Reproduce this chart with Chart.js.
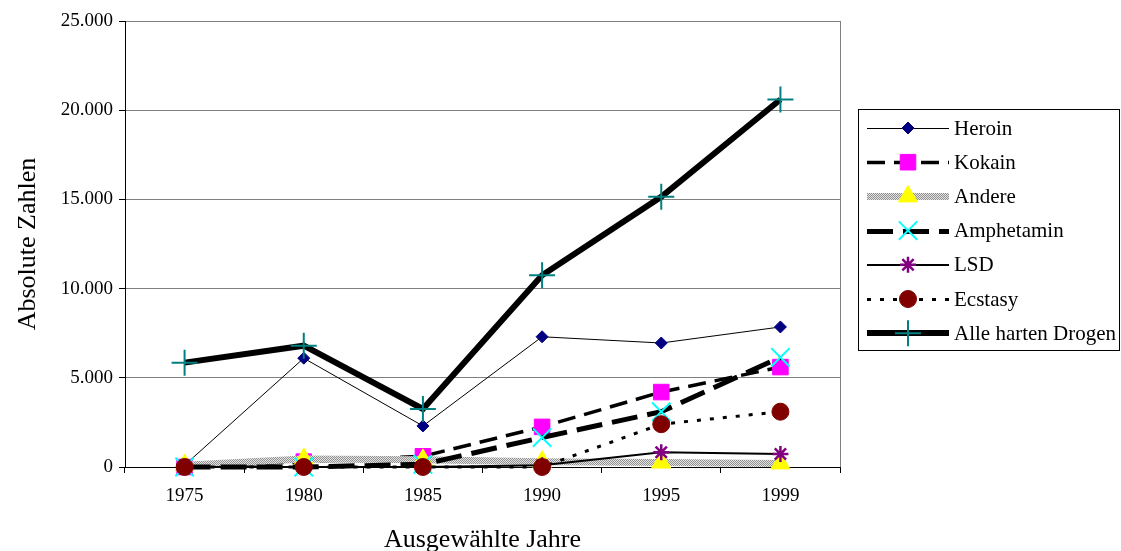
<!DOCTYPE html>
<html lang="de">
<head>
<meta charset="utf-8">
<title>Harte Drogen – Absolute Zahlen</title>
<script src="https://cdn.jsdelivr.net/npm/chart.js@4/dist/chart.umd.min.js"></script>
<style>
  html, body { margin: 0; padding: 0; background: #fff; }
  canvas { display: block; }
</style>
</head>
<body>
<canvas id="chart" width="1121" height="551"></canvas>
<script>
// Jahre und Werte je Droge
const years = ['1975', '1980', '1985', '1990', '1995', '1999'];
const heroin     = [100, 6100, 2300, 7300, 6950, 7850];
const kokain     = [0, 300, 600, 2250, 4200, 5600];
const andere     = [100, 450, 400, 300, 250, 200];
const amphetamin = [0, 0, 150, 1650, 3100, 6150];
const lsd        = [0, 0, 0, 100, 830, 730];
const ecstasy    = [0, 0, 0, 0, 2400, 3100];
const alle       = [5850, 6800, 3250, 10750, 15150, 20600];
const yTicks = [0, 5000, 10000, 15000, 20000, 25000];

const FONT = "'Liberation Serif', 'Times New Roman', serif";

// graues Punktraster für die Linie "Andere"
function hatchPattern() {
  const c = document.createElement('canvas');
  c.width = 2; c.height = 2;
  const g = c.getContext('2d');
  g.fillStyle = '#e4e4e4'; g.fillRect(0, 0, 2, 2);
  g.fillStyle = '#909090'; g.fillRect(0, 0, 1, 1); g.fillRect(1, 1, 1, 1);
  return g.createPattern(c, 'repeat');
}
const ctx = document.getElementById('chart').getContext('2d');
const hatch = hatchPattern();

const series = [
  { label: 'Heroin', data: heroin, line: '#000000', width: 1, dash: [],
    style: 'rectRot', radius: 6, fill: '#000080', stroke: '#000080', pw: 1 },
  { label: 'Kokain', data: kokain, line: '#000000', width: 3.5, dash: [18, 9],
    style: 'rect', radius: 11, fill: '#ff00ff', stroke: '#ff00ff', pw: 1 },
  { label: 'Andere', data: andere, line: hatch, width: 7, dash: [],
    style: 'triangle', radius: 11, fill: '#ffff00', stroke: '#ffff00', pw: 1 },
  { label: 'Amphetamin', data: amphetamin, line: '#000000', width: 5, dash: [26, 10],
    style: 'crossRot', radius: 13, fill: '#00ffff', stroke: '#00ffff', pw: 2 },
  { label: 'LSD', data: lsd, line: '#000000', width: 2, dash: [],
    style: 'star', radius: 8, fill: '#800080', stroke: '#800080', pw: 2.5 },
  { label: 'Ecstasy', data: ecstasy, line: '#000000', width: 3, dash: [4, 9],
    style: 'circle', radius: 8.5, fill: '#800000', stroke: '#800000', pw: 1 },
  { label: 'Alle harten Drogen', data: alle, line: '#000000', width: 6, dash: [],
    style: 'cross', radius: 13, fill: '#008080', stroke: '#008080', pw: 2 }
];

const datasets = series.map((s, i) => ({
  label: s.label,
  data: s.data,
  borderColor: s.line,
  borderWidth: s.width,
  borderDash: s.dash,
  tension: 0,
  fill: false,
  pointStyle: s.style,
  pointRadius: s.radius,
  pointHoverRadius: s.radius,
  pointBackgroundColor: s.fill,
  pointBorderColor: s.stroke,
  pointBorderWidth: s.pw,
  clip: false,
  order: series.length - i
}));

function deNumber(v) {
  return String(v).replace(/\B(?=(\d{3})+(?!\d))/g, '.');
}

// Marker der Legende mit derselben Form wie im Diagramm
function marker(c, s, x, y) {
  if (Chart.helpers && Chart.helpers.drawPoint) {
    c.save();
    c.fillStyle = s.fill; c.strokeStyle = s.stroke; c.lineWidth = s.pw;
    Chart.helpers.drawPoint(c, { pointStyle: s.style, radius: s.radius, borderWidth: s.pw, rotation: 0 }, x, y);
    c.restore();
  }
}

const frameAndLegend = {
  id: 'frameAndLegend',
  afterDraw(chart) {
    const c = chart.ctx;
    const a = chart.chartArea;
    c.save();
    // rechter Rahmen der Zeichenfläche
    c.strokeStyle = '#808080';
    c.lineWidth = 1;
    c.beginPath();
    c.moveTo(a.right + 0.5, a.top);
    c.lineTo(a.right + 0.5, a.bottom);
    c.stroke();

    // Legende
    const bx = 858.5, by = 109.5, bw = 261, bh = 241;
    c.fillStyle = '#ffffff';
    c.fillRect(bx, by, bw, bh);
    c.strokeStyle = '#000000';
    c.lineWidth = 1;
    c.strokeRect(bx, by, bw, bh);

    const x0 = 867, x1 = 949, mx = 908, tx = 954;
    series.forEach((s, i) => {
      const y = 128 + i * 34.2;
      c.save();
      c.strokeStyle = s.line;
      c.lineWidth = s.width;
      c.setLineDash(s.dash);
      c.beginPath();
      c.moveTo(x0, Math.round(y) + (s.width % 2 ? 0.5 : 0));
      c.lineTo(x1, Math.round(y) + (s.width % 2 ? 0.5 : 0));
      c.stroke();
      c.restore();
      marker(c, s, mx, y);
      c.fillStyle = '#000000';
      c.font = '21px ' + FONT;
      c.textAlign = 'left';
      c.textBaseline = 'middle';
      c.fillText(s.label, tx, y + 1);
    });
    c.restore();
  }
};

new Chart(ctx, {
  type: 'line',
  data: { labels: years, datasets },
  plugins: [frameAndLegend],
  options: {
    responsive: false,
    animation: false,
    events: [],
    layout: { padding: { top: 21, right: 281, bottom: 0, left: 0 } },
    plugins: {
      legend: { display: false },
      tooltip: { enabled: false },
      title: { display: false }
    },
    scales: {
      x: {
        type: 'category',
        offset: true,
        grid: {
          offset: true,
          drawOnChartArea: false,
          drawTicks: true,
          tickLength: 6,
          tickColor: '#000000',
          color: '#000000'
        },
        border: { display: true, color: '#000000', width: 1 },
        ticks: {
          color: '#000000',
          font: { family: FONT, size: 19 },
          padding: 12,
          maxRotation: 0,
          autoSkip: false
        },
        title: {
          display: true,
          text: 'Ausgewählte Jahre',
          color: '#000000',
          font: { family: FONT, size: 26, lineHeight: 0.8 },
          padding: { top: 0, bottom: 0 }
        },
        afterFit(scale) { scale.height = 84; }
      },
      y: {
        min: 0,
        max: 25000,
        afterBuildTicks(scale) { scale.ticks = yTicks.map(v => ({ value: v })); },
        grid: {
          color: '#808080',
          lineWidth: 1,
          drawTicks: true,
          tickLength: 6,
          tickColor: '#000000'
        },
        border: { display: true, color: '#000000', width: 1 },
        ticks: {
          color: '#000000',
          font: { family: FONT, size: 19 },
          padding: 6,
          callback: (v) => deNumber(v)
        },
        title: {
          display: true,
          text: 'Absolute Zahlen',
          color: '#000000',
          font: { family: FONT, size: 26, lineHeight: 0.8 },
          padding: { top: 18, bottom: 0 }
        },
        afterFit(scale) { scale.width = 125; }
      }
    }
  }
});
</script>
</body>
</html>
